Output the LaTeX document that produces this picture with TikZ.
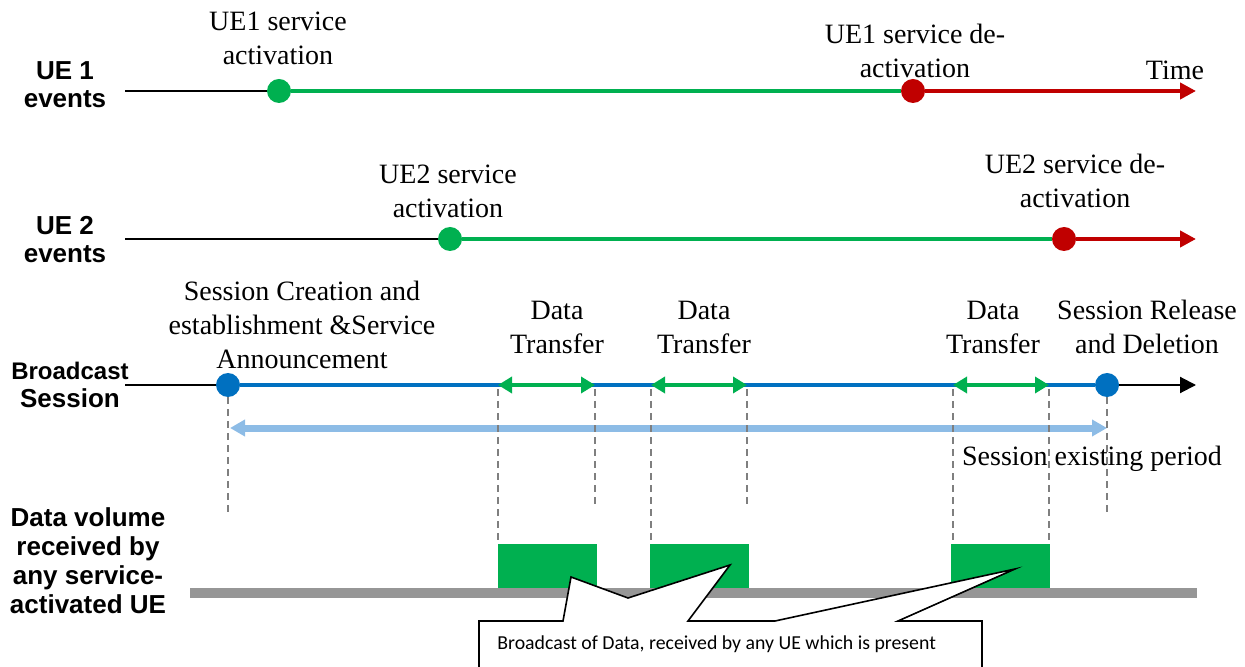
\documentclass[tikz,border=0pt]{standalone}
\usepackage{fontspec}
\setmainfont{Liberation Serif}
\setsansfont{Liberation Sans}
\newfontfamily\calloutfont{Carlito}
\usetikzlibrary{arrows.meta}

\definecolor{evgreen}{HTML}{00B050}
\definecolor{evred}{HTML}{C00000}
\definecolor{evblue}{HTML}{0070C0}
\definecolor{periodblue}{HTML}{8DBCE6}
\definecolor{bargray}{HTML}{969696}
\definecolor{guidegray}{HTML}{7F7F7F}

\tikzset{
  evdot/.style={circle,fill=#1,inner sep=0pt,minimum size=12pt},
  rowlabel/.style={font=\fontsize{13}{14}\selectfont\sffamily\bfseries,align=center,inner sep=0pt},
  evtext/.style={font=\fontsize{14}{17}\selectfont,align=center,inner sep=0pt},
  guide/.style={guidegray,line width=0.6pt,dash pattern=on 3.5pt off 2.5pt},
  tip/.style={-{Triangle[length=8pt,width=8pt]}},
  span/.style={evgreen,line width=2pt,{Triangle[length=7pt,width=8pt]}-{Triangle[length=7pt,width=8pt]}}
}

\begin{document}
\begin{tikzpicture}[x=0.5pt,y=-0.5pt]
      \useasboundingbox (0,0) rectangle (1245,667);
      % UE 1
      \node[rowlabel] (ue1) at (65,85) {UE 1\\events};
      \coordinate (ue1start) at (125,91);
      \coordinate (ue1end) at (1196,91);
      \node[evdot=evgreen] (ue1on) at (279,91) {};
      \node[evdot=evred] (ue1off) at (913,91) {};
      \draw[line width=1pt] (ue1start) -- (ue1on);
      \draw[evgreen,line width=2pt] (ue1on) -- (ue1off);
      \draw[evred,line width=2pt,tip] (ue1off) -- (ue1end);
      \node[evtext] (ue1ontext) at (278,38) {UE1 service\\activation};
      \node[evtext] (ue1offtext) at (915,51) {UE1 service de-\\activation};
      \node[evtext] (time) at (1175,70) {Time};
      % UE 2
      \node[rowlabel] (ue2) at (65,240) {UE 2\\events};
      \coordinate (ue2start) at (125,239);
      \coordinate (ue2end) at (1196,239);
      \node[evdot=evgreen] (ue2on) at (450,239) {};
      \node[evdot=evred] (ue2off) at (1064,239) {};
      \draw[line width=1pt] (ue2start) -- (ue2on);
      \draw[evgreen,line width=2pt] (ue2on) -- (ue2off);
      \draw[evred,line width=2pt,tip] (ue2off) -- (ue2end);
      \node[evtext] (ue2ontext) at (448,191) {UE2 service\\activation};
      \node[evtext] (ue2offtext) at (1075,181) {UE2 service de-\\activation};
      % broadcast session
      \node[rowlabel] (bc) at (70,385) {{\fontsize{12}{13}\selectfont Broadcast}\\Session};
      \coordinate (bcstart) at (125,385);
      \coordinate (bcend) at (1196,385);
      \node[evdot=evblue] (bcon) at (228,385) {};
      \node[evdot=evblue] (bcoff) at (1107,385) {};
      \draw[line width=1pt] (bcstart) -- (bcon);
      \draw[evblue,line width=2pt] (bcon) -- (bcoff);
      \draw[line width=1pt,tip] (bcoff) -- (bcend);
      \foreach \a/\b/\n in {498/595/1,651/747/2,953/1049/3}{
        \coordinate (dt\n a) at (\a,385);
        \coordinate (dt\n b) at (\b,385);
        \draw[span] (dt\n a) -- (dt\n b);
      }
      \node[evtext] (create) at (302,325) {Session Creation and\\establishment \&Service\\Announcement};
      \node[evtext] (dt1text) at (557,327) {Data\\Transfer};
      \node[evtext] (dt2text) at (704,327) {Data\\Transfer};
      \node[evtext] (dt3text) at (993,327) {Data\\Transfer};
      \node[evtext] (release) at (1147,327) {Session Release\\and Deletion};
      % session period
      \coordinate (pstart) at (230,428);
      \coordinate (pend) at (1107,428);
      \draw[periodblue,line width=3.5pt,{Triangle[length=7.5pt,width=8pt]}-{Triangle[length=7.5pt,width=8pt]}] (pstart) -- (pend);
      \node[evtext] (period) at (1092,459) {Session existing period};
      % guides
      \foreach \x/\ya/\yb in {228/397/515,498/389/544,595/389/505,651/389/544,747/389/505,953/389/545,1049/389/545,1107/397/515}
        \draw[guide] (\x,\ya) -- (\x,\yb);
      % data volume
      \node[rowlabel,font=\fontsize{13}{14.5}\selectfont\sffamily\bfseries] (vol) at (88,561) {Data volume\\received by\\any service-\\activated UE};
      \fill[bargray] (190,588) rectangle (1197,598);
      \foreach \a/\b in {498/597,650/749,951/1050}
        \fill[evgreen] (\a,544) rectangle (\b,588);
      % callout
      \draw[fill=white,line width=0.8pt] (479,700) -- (479,621) -- (563,621) -- (571,577) -- (628,598) -- (730,565) -- (688,621)
        -- (775,621) -- (1015,569) -- (898,621) -- (982,621) -- (982,700) -- cycle;
      \node[font=\calloutfont\fontsize{9.9}{11}\selectfont,anchor=base west,inner sep=0pt] (note) at (497,649) {Broadcast of Data, received by any UE which is present};
\end{tikzpicture}
\end{document}
